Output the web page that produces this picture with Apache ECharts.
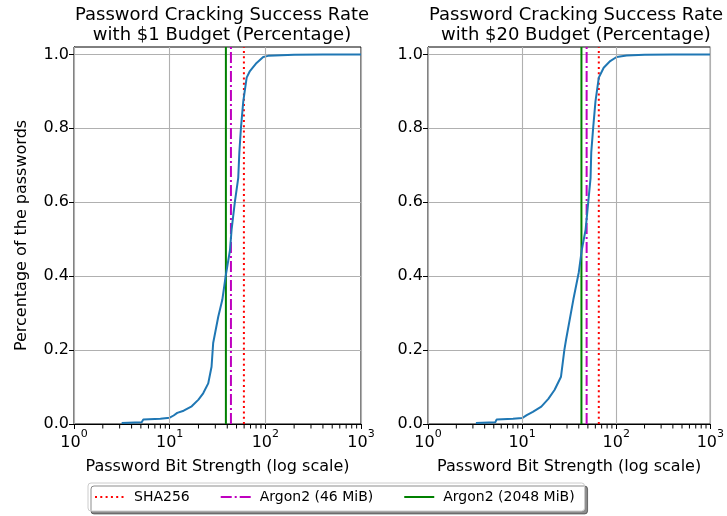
<!DOCTYPE html>
<html>
<head>
<meta charset="utf-8">
<script src="https://cdn.jsdelivr.net/npm/echarts@6/dist/echarts.min.js"></script>
<style>
html,body{margin:0;padding:0;background:#fff;}
#c{width:727px;height:516px;}
</style>
</head>
<body>
<div id="c"></div>
<script>
// ---- data ----
const xMajorTicks = [1, 10, 100, 1000];
const yTickValues = [0, 0.2, 0.4, 0.6, 0.8, 1.0];
const titles = ['Password Cracking Success Rate\nwith $1 Budget (Percentage)',
                'Password Cracking Success Rate\nwith $20 Budget (Percentage)'];
const xAxisName = 'Password Bit Strength (log scale)';
const yAxisName = 'Percentage of the passwords';

const leftX = [3.15,5.1,5.3,8,10,11,12,14,17,20,22.4,25.3,27.4,28.5,32.2,35.5,38.5,42.7,44.4,48,52.1,53.5,55.6,58.8,63.8,69,81,95,107,126,200,400,1000];
const leftY = [0.003,0.005,0.012,0.014,0.017,0.023,0.03,0.036,0.048,0.066,0.083,0.11,0.155,0.219,0.29,0.336,0.40,0.47,0.526,0.6,0.666,0.735,0.801,0.873,0.937,0.955,0.977,0.993,0.996,0.997,0.999,1.0,1.0];

const rightX = [3.23,5.2,5.35,8,10,11.2,13,16,19,22.1,25.9,28.1,29.3,35,40,43,47.3,53.4,54.3,56.9,60.2,65.3,73.6,86.3,101,129,200,400,1000];
const rightY = [0.003,0.005,0.012,0.014,0.016,0.024,0.033,0.047,0.068,0.092,0.128,0.2,0.228,0.336,0.41,0.47,0.526,0.666,0.735,0.801,0.873,0.937,0.964,0.982,0.993,0.997,0.999,1.0,1.0];

// thresholds: [SHA256, Argon2 46 MiB, Argon2 2048 MiB]
const thresholdNames = ['SHA256', 'Argon2 (46 MiB)', 'Argon2 (2048 MiB)'];
const leftThresholds = [59.7, 43.7, 38.7];
const rightThresholds = [65.3, 48.5, 42.7];

const yMax = 1.02;

// ---- build ----
// minor tick positions of the log axis (2..9 x 10^k)
const minorTicks = [];
for (let d = 1; d <= 100; d *= 10) {
  for (let m = 2; m <= 9; m++) minorTicks.push(m * d);
}
const fontFamily = 'DejaVu Sans';

const thresholdStyles = [
  {color: '#ff0000', width: 2, type: [2, 3.3]},
  {color: '#bf00bf', width: 2, type: [11, 3, 2, 3]},
  {color: '#008000', width: 2, type: 'solid'}
];

const gridBoxes = [
  {left: 74, right: 366, top: 47, bottom: 92},
  {left: 428, right: 12, top: 47, bottom: 92}
];

const option = {
  backgroundColor: '#fff',
  animation: false,
  textStyle: {fontFamily: fontFamily},
  title: titles.map((t, i) => ({
    text: t,
    left: i === 0 ? 217 : 571,
    top: 0,
    textAlign: 'center',
    textStyle: {fontFamily: fontFamily, fontSize: 18, fontWeight: 'normal', color: '#000', lineHeight: 20}
  })),
  legend: {
    left: 88, top: 483,
    width: 500,
    padding: [7, 10, 7, 6],
    itemGap: 30,
    itemWidth: 30, itemHeight: 14,
    data: thresholdNames,
    backgroundColor: '#fff',
    borderColor: '#cccccc', borderWidth: 1, borderRadius: 3,
    shadowColor: 'rgba(0,0,0,0.45)', shadowBlur: 0, shadowOffsetX: 3, shadowOffsetY: 3,
    itemStyle: {opacity: 0},
    textStyle: {fontFamily: fontFamily, fontSize: 14, color: '#000', padding: [0, 0, 0, 4]}
  },
  grid: gridBoxes.map(g => Object.assign({show: true, borderColor: '#000', borderWidth: 1, backgroundColor: 'transparent'}, g)),
  xAxis: [],
  yAxis: [],
  series: []
};

[0, 1].forEach(gi => {
  option.xAxis.push({
    type: 'log', logBase: 10, min: 1, max: 1000, gridIndex: gi,
    name: xAxisName, nameLocation: 'middle', nameGap: 35,
    nameTextStyle: {fontFamily: fontFamily, fontSize: 16, color: '#000'},
    axisLine: {show: true, onZero: false, lineStyle: {color: '#000', width: 1}},
    axisTick: {show: true, inside: false, length: 5, lineStyle: {color: '#000', width: 1}},
    axisLabel: {show: true, color: '#000', fontFamily: fontFamily, margin: 5,
      formatter: v => '{b|10}{s|' + Math.round(Math.log10(v)) + '}',
      rich: {
        b: {fontSize: 16, fontFamily: fontFamily, color: '#000', verticalAlign: 'bottom', lineHeight: 22},
        s: {fontSize: 11, fontFamily: fontFamily, color: '#000', verticalAlign: 'top', lineHeight: 22}
      }},
    splitLine: {show: true, lineStyle: {color: '#b0b0b0', width: 1.1}},
    minorTick: {show: false},
    z: 5
  });
  option.yAxis.push({
    type: 'value', min: 0, max: yMax, gridIndex: gi,
    name: gi === 0 ? yAxisName : '', nameLocation: 'middle', nameGap: 44, nameRotate: 90,
    nameTextStyle: {fontFamily: fontFamily, fontSize: 16, color: '#000'},
    axisLine: {show: true, onZero: false, lineStyle: {color: '#000', width: 1}},
    axisTick: {show: true, inside: false, length: 5, lineStyle: {color: '#000', width: 1}, customValues: yTickValues},
    axisLabel: {show: true, color: '#000', fontSize: 16, fontFamily: fontFamily, margin: 5,
      customValues: yTickValues, formatter: v => v.toFixed(1)},
    splitLine: {show: true, lineStyle: {color: '#b0b0b0', width: 1.1}}
  });

  const xs = gi === 0 ? leftX : rightX;
  const ys = gi === 0 ? leftY : rightY;
  const th = gi === 0 ? leftThresholds : rightThresholds;

  option.series.push({
    name: 'curve', type: 'line', xAxisIndex: gi, yAxisIndex: gi,
    data: xs.map((x, k) => [x, ys[k]]),
    symbol: 'none', smooth: false,
    lineStyle: {color: '#1f77b4', width: 2},
    z: 3
  });
  th.forEach((v, k) => {
    option.series.push({
      name: thresholdNames[k], type: 'line', xAxisIndex: gi, yAxisIndex: gi,
      data: [[v, 0], [v, yMax]],
      symbol: 'none',
      lineStyle: thresholdStyles[k],
      itemStyle: {color: thresholdStyles[k].color},
      z: 2
    });
  });
  // minor ticks of the log x axis, drawn as short segments just below the axis
  option.series.push({
    name: 'minorTicks', type: 'scatter', xAxisIndex: gi, yAxisIndex: gi,
    clip: false, silent: true, z: 6,
    data: minorTicks.map(v => [v, 0]),
    symbol: 'rect', symbolSize: [1, 4], symbolOffset: [0, 2.5],
    itemStyle: {color: '#000', opacity: 1},
    emphasis: {disabled: true}
  });
});

const chart = echarts.init(document.getElementById('c'), null, {renderer: 'canvas'});
chart.setOption(option);
</script>
</body>
</html>
